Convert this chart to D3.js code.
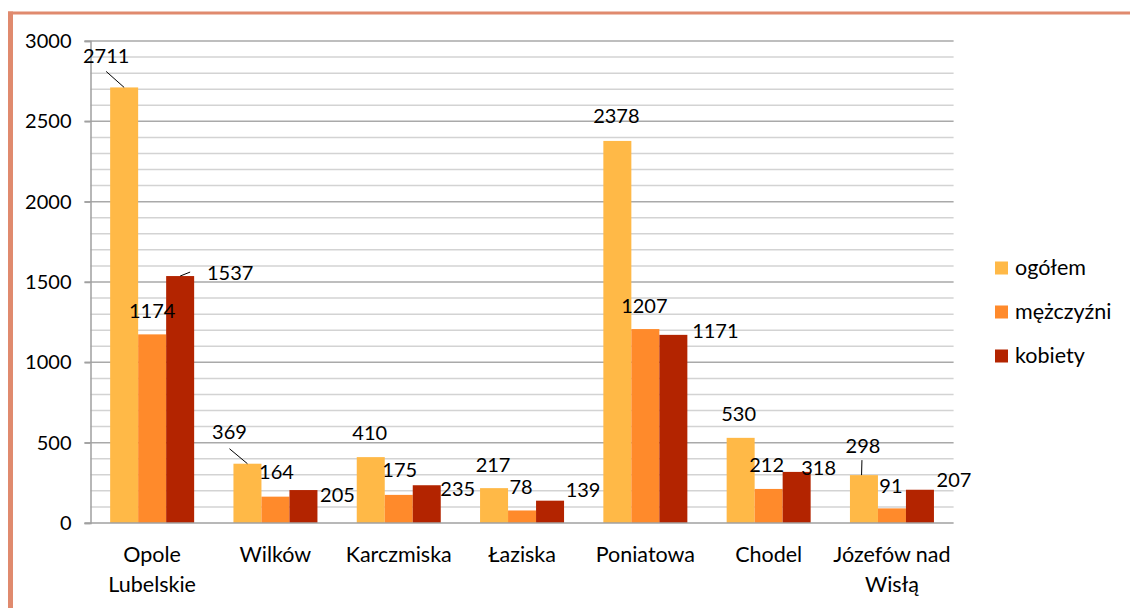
<!DOCTYPE html>
<html>
<head>
<meta charset="utf-8">
<script src="https://cdn.jsdelivr.net/npm/d3@7"></script>
<style>
  body { margin: 0; background: #fff; }
  text { font-family: Lato, "Open Sans", sans-serif; fill: #000; }
</style>
</head>
<body>
<script>
const categories = [["Opole", "Lubelskie"], ["Wilków"], ["Karczmiska"], ["Łaziska"], ["Poniatowa"], ["Chodel"], ["Józefów nad", "Wisłą"]];
const seriesNames = ["ogółem", "mężczyźni", "kobiety"];
const ogolem = [2711, 369, 410, 217, 2378, 530, 298];
const mezczyzni = [1174, 164, 175, 78, 1207, 212, 91];
const kobiety = [1537, 205, 235, 139, 1171, 318, 207];
const yTicks = [0, 500, 1000, 1500, 2000, 2500, 3000];

// label placement (dx, dy from bar top centre), dragged by hand in the original
const labelOffsets = [
  [[-18, -25], [0, -17], [50, 3]],
  [[-18, -25], [1, -18], [34, 11]],
  [[-1, -18], [1, -18], [31, 10]],
  [[-1, -17], [-1, -17], [33, -4]],
  [[-1, -18], [-1, -17], [42, 3]],
  [[-2, -17], [-2, -17], [22, 3]],
  [[-1, -23], [-1, -16], [34, -3]]
];
// leader lines: [series, category, startDx, startDy, endDx]
const leaders = [[0, 0, 0, 9, 0], [0, 1, 0, 10, 0], [2, 0, -40, -7, 0], [0, 6, -1, 8, -2.4]];

const colors = ["#FFB947", "#FF8A2B", "#B32400"];
const width = 1130, height = 608;
const fontSize = 20;
const margin = { top: 41, left: 90.5, right: 953.6, bottom: 523 };

const series = [ogolem, mezczyzni, kobiety];

const svg = d3.select("body").append("svg")
  .attr("width", width).attr("height", height);

// frame
svg.append("rect").attr("x", 8).attr("y", 11.5).attr("width", width - 8).attr("height", 3).attr("fill", "#E08A6E");
svg.append("rect").attr("x", 8).attr("y", 11.5).attr("width", 5).attr("height", height).attr("fill", "#E08A6E");

const x0 = d3.scaleBand().domain(d3.range(categories.length)).range([margin.left, margin.right]);
const x1 = d3.scaleBand().domain(d3.range(3)).range([0, 84]);
const y = d3.scaleLinear().domain([0, 3000]).range([margin.bottom, margin.top]);

const barX = (ci, si) => x0(ci) + (x0.bandwidth() - 84) / 2 + x1(si);

// grid
svg.append("g").selectAll("line")
  .data(d3.range(100, 3001, 100))
  .join("line")
  .attr("x1", d => d % 500 === 0 ? margin.left - 6 : margin.left)
  .attr("x2", margin.right)
  .attr("y1", d => y(d)).attr("y2", d => y(d))
  .attr("stroke", d => d % 500 === 0 ? "#A9A9A9" : "#D3D3D3")
  .attr("stroke-width", 1.5);

// y axis
const yAxis = d3.axisLeft(y).tickValues(yTicks).tickFormat(d3.format("d")).tickSize(6).tickPadding(13);
const gy = svg.append("g").attr("transform", `translate(${margin.left},0)`).call(yAxis);
gy.select(".domain").attr("stroke", "#A0A0A0").attr("stroke-width", 1.5);
gy.selectAll(".tick line").attr("stroke", "#A0A0A0").attr("stroke-width", 1.5);
gy.selectAll(".tick text").attr("font-size", fontSize).attr("font-family", "Lato, sans-serif").attr("fill", "#000");

// bars
series.forEach((vals, si) => {
  svg.append("g").selectAll("rect")
    .data(vals)
    .join("rect")
    .attr("x", (d, i) => barX(i, si))
    .attr("y", d => y(d))
    .attr("width", x1.bandwidth())
    .attr("height", d => y(0) - y(d))
    .attr("fill", colors[si]);
});

// x axis line
svg.append("line")
  .attr("x1", margin.left - 6).attr("x2", margin.right)
  .attr("y1", y(0)).attr("y2", y(0))
  .attr("stroke", "#A0A0A0").attr("stroke-width", 1.5);

// category labels
categories.forEach((lines, i) => {
  const t = svg.append("text")
    .attr("x", x0(i) + x0.bandwidth() / 2)
    .attr("y", 562)
    .attr("text-anchor", "middle")
    .attr("font-size", 21.5);
  lines.forEach((s, k) => t.append("tspan").attr("x", x0(i) + x0.bandwidth() / 2).attr("dy", k ? 30 : 0).text(s));
});

// data labels
series.forEach((vals, si) => {
  svg.append("g").selectAll("text")
    .data(vals)
    .join("text")
    .attr("x", (d, i) => barX(i, si) + x1.bandwidth() / 2 + labelOffsets[i][si][0])
    .attr("y", (d, i) => y(d) + labelOffsets[i][si][1] + 0.5)
    .attr("text-anchor", "middle")
    .attr("font-size", fontSize)
    .text(d => d);
});

// leader lines
leaders.forEach(([si, ci, sx, sy, ex]) => {
  const v = series[si][ci];
  const cx = barX(ci, si) + x1.bandwidth() / 2;
  const lx = cx + labelOffsets[ci][si][0];
  const ly = y(v) + labelOffsets[ci][si][1];
  svg.append("line")
    .attr("x1", lx + sx).attr("y1", ly + sy)
    .attr("x2", cx + ex).attr("y2", y(v))
    .attr("stroke", "#000").attr("stroke-width", 1);
});

// legend
const legend = svg.append("g");
seriesNames.forEach((n, i) => {
  const ly = 268 + i * 44;
  legend.append("rect").attr("x", 995).attr("y", ly - 6.5).attr("width", 13).attr("height", 13).attr("fill", colors[i]);
  legend.append("text").attr("x", 1015).attr("y", ly + 7).attr("font-size", 21.5).text(n);
});
</script>
</body>
</html>
